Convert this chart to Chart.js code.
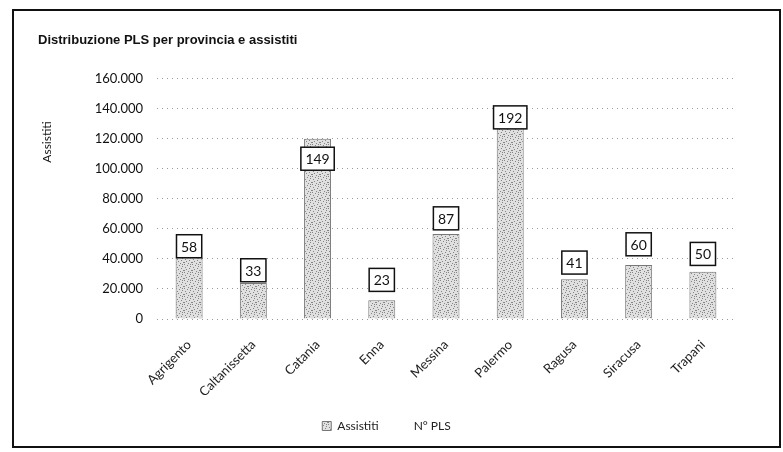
<!DOCTYPE html>
<html>
<head>
<meta charset="utf-8">
<script src="https://cdn.jsdelivr.net/npm/chart.js@4"></script>
<style>
  body { margin: 0; background: #fff; }
  #box { position: relative; width: 783px; height: 452px; }
  #cornice { position: absolute; left: 12px; top: 9px; width: 765px; height: 435px; border: 2px solid #111; pointer-events: none; }
</style>
</head>
<body>
<div id="box">
  <canvas id="myChart" width="783" height="452"></canvas>
  <div id="cornice"></div>
</div>
<script>
const province = ["Agrigento", "Caltanissetta", "Catania", "Enna", "Messina", "Palermo", "Ragusa", "Siracusa", "Trapani"]
const assistiti = [41000, 24000, 120000, 12500, 56500, 140000, 26500, 36000, 31500]
const numeroPls = [58, 33, 149, 23, 87, 192, 41, 60, 50]
const tickAssistiti = [0, 20000, 40000, 60000, 80000, 100000, 120000, 140000, 160000]

// trama puntinata delle barre (come la stampa scansionata)
function creaTrama() {
  const c = document.createElement("canvas")
  c.width = 8
  c.height = 8
  const g = c.getContext("2d")
  g.fillStyle = "#e0e0e0"
  g.fillRect(0, 0, 8, 8)
  g.fillStyle = "#858585"
  const punti = [[0, 0], [3, 1], [6, 2], [1, 3], [5, 4], [2, 5], [7, 6], [4, 7], [0, 6], [6, 0]]
  for (let i = 0; i < punti.length; i++) {
    g.fillRect(punti[i][0], punti[i][1], 1, 1)
  }
  return g.createPattern(c, "repeat")
}

function formatta(v) {
  return String(v).replace(/\B(?=(\d{3})+(?!\d))/g, ".")
}

const etichette = {
  id: "etichette",
  afterDatasetsDraw(chart) {
    const ctx = chart.ctx
    const meta = chart.getDatasetMeta(1)
    ctx.save()
    ctx.font = "14px Lato"
    ctx.textAlign = "center"
    ctx.textBaseline = "middle"
    meta.data.forEach(function (pt, i) {
      const txt = String(numeroPls[i])
      const w = ctx.measureText(txt).width + 9
      const h = 23
      const cx = pt.x
      const cy = pt.y - 17
      ctx.fillStyle = "#fff"
      ctx.fillRect(cx - w / 2, cy - h / 2, w, h)
      ctx.strokeStyle = "#111"
      ctx.lineWidth = 1.5
      ctx.strokeRect(cx - w / 2, cy - h / 2, w, h)
      ctx.fillStyle = "#111"
      ctx.fillText(txt, cx, cy + 1)
    })
    ctx.restore()
  }
}

// titolo asse verticale, spostato in alto come nell'originale
const titoloAsse = {
  id: "titoloAsse",
  afterDraw(chart) {
    const ctx = chart.ctx
    ctx.save()
    ctx.translate(47, 142)
    ctx.rotate(-Math.PI / 2)
    ctx.font = "12px Lato"
    ctx.fillStyle = "#111"
    ctx.textAlign = "center"
    ctx.textBaseline = "middle"
    ctx.fillText("Assistiti", 0, 0)
    ctx.restore()
  }
}

const trama = creaTrama()

const data = {
  labels: province,
  datasets: [
    {
      type: "bar",
      label: "Assistiti",
      data: assistiti,
      backgroundColor: trama,
      borderColor: "#777",
      borderWidth: 1,
      barPercentage: 0.42,
      categoryPercentage: 1,
      yAxisID: "y"
    },
    {
      type: "line",
      label: "N° PLS",
      data: numeroPls,
      showLine: false,
      pointRadius: 0,
      backgroundColor: "rgba(0,0,0,0)",
      borderColor: "rgba(0,0,0,0)",
      yAxisID: "y1"
    }
  ]
}

const config = {
  type: "bar",
  data: data,
  plugins: [etichette, titoloAsse],
  options: {
    responsive: false,
    animation: false,
    layout: { padding: { left: 38, right: 48, top: 33, bottom: 10 } },
    plugins: {
      tooltip: { enabled: false },
      title: {
        display: true,
        text: "Distribuzione PLS per provincia e assistiti",
        align: "start",
        color: "#111",
        font: { family: "Liberation Sans", size: 13, weight: "bold" },
        padding: { top: 0, bottom: 30 }
      },
      legend: {
        position: "bottom",
        labels: {
          boxWidth: 9,
          boxHeight: 9,
          padding: 20,
          color: "#222",
          font: { family: "Lato", size: 12 }
        }
      }
    },
    scales: {
      x: {
        grid: { display: false },
        border: { display: false },
        ticks: {
          minRotation: 45,
          maxRotation: 45,
          padding: 10,
          color: "#222",
          font: { family: "Lato", size: 13 }
        },
        afterFit: function (scale) { scale.height = 81 }
      },
      y: {
        min: 0,
        max: 160000,
        border: { display: false },
        grid: { color: "#9a9a9a", lineWidth: 1, drawTicks: false },
        ticks: {
          stepSize: 20000,
          padding: 14,
          color: "#111",
          font: { family: "Lato", size: 13 },
          callback: function (v) { return tickAssistiti.includes(v) ? formatta(v) : "" }
        },
        afterFit: function (scale) { scale.width = 119 }
      },
      y1: {
        display: false,
        min: 0,
        max: 250
      }
    }
  }
}

// griglia tratteggiata
config.options.scales.y.border.dash = [1, 4]
config.options.scales.y.grid.borderDash = [1, 4]

const myChart = new Chart(document.getElementById("myChart"), config)
</script>
</body>
</html>
